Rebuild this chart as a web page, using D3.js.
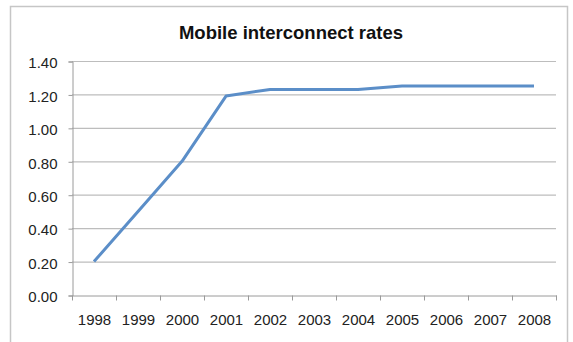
<!DOCTYPE html>
<html><head><meta charset="utf-8">
<script src="https://cdn.jsdelivr.net/npm/d3@7"></script>
<style>body{margin:0;background:#fff;}svg{display:block;font-family:"Liberation Sans",Arial,sans-serif;}</style>
</head><body>
<svg id="c" width="573" height="342"></svg>
<script>
const years = ["1998","1999","2000","2001","2002","2003","2004","2005","2006","2007","2008"];
const rates = [0.20, 0.50, 0.80, 1.19, 1.23, 1.23, 1.23, 1.25, 1.25, 1.25, 1.25];
const yTicks = [0, 0.2, 0.4, 0.6, 0.8, 1.0, 1.2, 1.4];
const title = "Mobile interconnect rates";

const svg = d3.select("#c");
svg.append("rect").attr("x",10.5).attr("y",6.5).attr("width",557).attr("height",345)
  .attr("fill","#fff").attr("stroke","#c6c6c6").attr("stroke-width",1.5);

const L=72, R=556, T=61, B=295;
const x = d3.scaleBand().domain(years).range([L,R]);
const y = d3.scaleLinear().domain([0,1.4]).range([B,T]);

// gridlines
svg.append("g").selectAll("line").data(yTicks.filter(d=>d>0)).join("line")
  .attr("x1",L).attr("x2",R).attr("y1",d=>y(d)+0.5).attr("y2",d=>y(d)+0.5)
  .attr("stroke","#bdbdbd").attr("stroke-width",1.2);

// y axis
const ya = svg.append("g").attr("transform",`translate(${L+0.5},0.5)`)
  .call(d3.axisLeft(y).tickValues(yTicks).tickFormat(d3.format(".2f")).tickSize(4).tickPadding(11));
ya.select(".domain").attr("stroke","#9a9a9a");
ya.selectAll(".tick line").attr("stroke","#9a9a9a");
ya.selectAll("text").attr("font-size",15).attr("fill","#222").attr("dy","0.42em").attr("font-family","Liberation Sans, Arial, sans-serif");

// x axis
const xa = svg.append("g").attr("transform",`translate(0.5,${B+0.5})`)
  .call(d3.axisBottom(x).tickSizeOuter(0).tickSize(0).tickPadding(19));
xa.select(".domain").attr("stroke","#9a9a9a");
xa.selectAll("text").attr("font-size",15).attr("fill","#222").attr("font-family","Liberation Sans, Arial, sans-serif");
const bounds = years.map((d)=>x(d)).concat([R]);
xa.append("g").selectAll("line").data(bounds).join("line")
  .attr("x1",d=>d).attr("x2",d=>d).attr("y1",0).attr("y2",5).attr("stroke","#9a9a9a");

// line
const line = d3.line().x((d,i)=>x(years[i])+x.bandwidth()/2).y(d=>y(d));
svg.append("path").datum(rates).attr("d",line).attr("fill","none")
  .attr("stroke","#5b8ec8").attr("stroke-width",3).attr("stroke-linejoin","round");

svg.append("text").attr("x",291).attr("y",39).attr("text-anchor","middle")
  .attr("font-size",18.5).attr("font-weight","bold").attr("fill","#111").text(title);
</script>
</body></html>
